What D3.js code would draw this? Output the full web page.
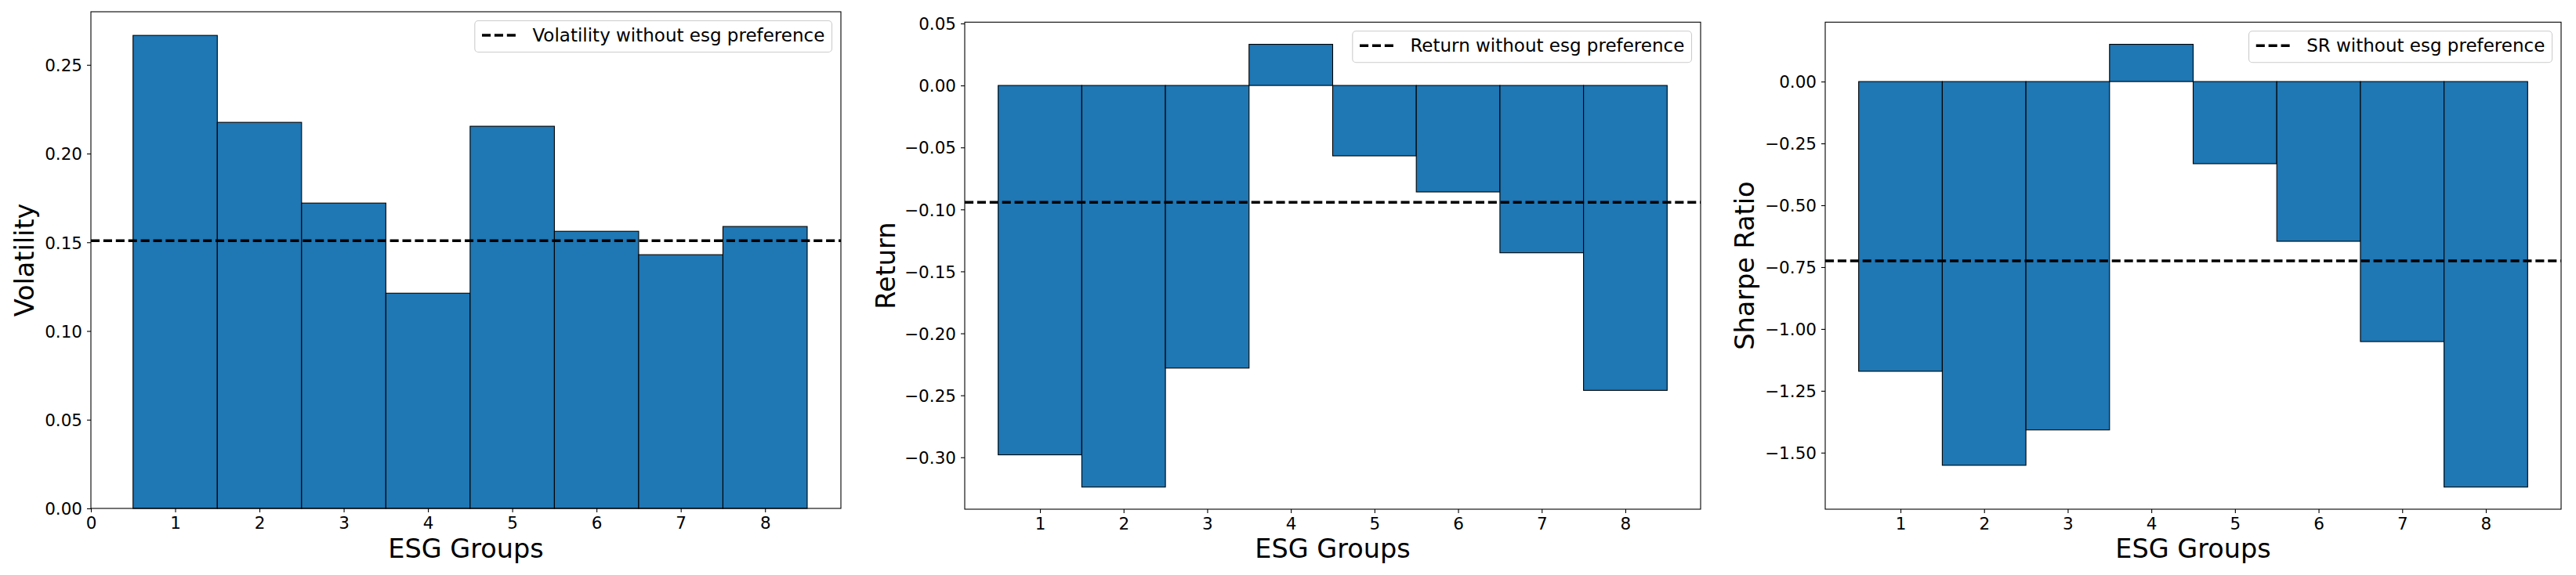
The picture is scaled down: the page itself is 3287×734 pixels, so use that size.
<!DOCTYPE html>
<html>
<head>
<meta charset="utf-8">
<script src="https://cdn.jsdelivr.net/npm/d3@7"></script>
<style>
  body { margin: 0; background: #fff; }
  text { font-family: "DejaVu Sans", sans-serif; fill: #000; }
</style>
</head>
<body>
<div id="chart"></div>
<script>
// values
const groups = [1, 2, 3, 4, 5, 6, 7, 8];
const volatility = [0.2666, 0.2176, 0.1721, 0.1213, 0.2154, 0.1562, 0.1430, 0.1589];
const volatilityBase = 0.1509;
const returns = [-0.298, -0.324, -0.228, 0.0332, -0.0568, -0.0859, -0.135, -0.246];
const returnBase = -0.0943;
const sharpe = [-1.171, -1.551, -1.408, 0.1506, -0.332, -0.6456, -1.051, -1.639];
const sharpeBase = -0.7247;

const volTicks = [0, 0.05, 0.10, 0.15, 0.20, 0.25];
const retTicks = [-0.30, -0.25, -0.20, -0.15, -0.10, -0.05, 0, 0.05];
const srTicks = [-1.50, -1.25, -1.00, -0.75, -0.50, -0.25, 0];

const W = 3287, H = 734;
const svg = d3.select("#chart").append("svg")
  .attr("width", W).attr("height", H);

svg.append("rect").attr("width", W).attr("height", H).attr("fill", "#fff");

function yDomain(vals) {
  let lo = Math.min(0, d3.min(vals)), hi = Math.max(0, d3.max(vals));
  const pad = 0.05 * (hi - lo);
  return [lo < 0 ? lo - pad : 0, hi > 0 ? hi + pad : 0];
}

function panel(cfg) {
  const { left, right, top, bottom } = cfg;
  const x = d3.scaleLinear().domain(cfg.xDomain).range([left, right]);
  const y = d3.scaleLinear().domain(yDomain(cfg.values)).range([bottom, top]);
  const g = svg.append("g");

  // bars
  g.selectAll("rect.bar")
    .data(cfg.values)
    .enter().append("rect")
    .attr("class", "bar")
    .attr("x", (d, i) => x(groups[i] - 0.5))
    .attr("width", (d, i) => x(groups[i] + 0.5) - x(groups[i] - 0.5))
    .attr("y", d => y(Math.max(0, d)))
    .attr("height", d => Math.abs(y(d) - y(0)))
    .attr("fill", "#1f77b4")
    .attr("stroke", "#000")
    .attr("stroke-width", 1.1);

  // reference line
  g.append("line")
    .attr("x1", left).attr("x2", right)
    .attr("y1", y(cfg.base)).attr("y2", y(cfg.base))
    .attr("stroke", "#000")
    .attr("stroke-width", 3.5)
    .attr("stroke-dasharray", "11.1,4.8");

  // frame
  g.append("rect")
    .attr("x", left).attr("y", top)
    .attr("width", right - left).attr("height", bottom - top)
    .attr("fill", "none").attr("stroke", "#000").attr("stroke-width", 1.1);

  // y axis
  const yAxis = g.append("g")
    .attr("transform", `translate(${left},0)`)
    .call(d3.axisLeft(y).tickValues(cfg.yTicks).tickFormat(d3.format(".2f"))
      .tickSize(5).tickPadding(6));
  yAxis.select(".domain").remove();
  yAxis.selectAll("line").attr("stroke-width", 1.1);
  yAxis.selectAll("text").attr("font-size", 21.5).attr("dy", "0.36em")
    .attr("font-family", "DejaVu Sans");

  // x axis
  const xAxis = g.append("g")
    .attr("transform", `translate(0,${bottom})`)
    .call(d3.axisBottom(x).tickValues(cfg.xTicks).tickFormat(d3.format("d"))
      .tickSize(5).tickPadding(5));
  xAxis.select(".domain").remove();
  xAxis.selectAll("line").attr("stroke-width", 1.1);
  xAxis.selectAll("text").attr("font-size", 21.5).attr("dy", "0.76em")
    .attr("font-family", "DejaVu Sans");

  // axis labels
  g.append("text")
    .attr("x", (left + right) / 2).attr("y", 712)
    .attr("text-anchor", "middle").attr("font-size", 33.5)
    .text("ESG Groups");
  g.append("text")
    .attr("transform", `translate(${left - cfg.ylabelOffset},${(top + bottom) / 2}) rotate(-90)`)
    .attr("text-anchor", "middle").attr("font-size", 33.5)
    .text(cfg.ylabel);

  // legend
  const fs = 23;
  const lg = g.append("g");
  const box = lg.append("rect");
  const label = lg.append("text")
    .attr("font-size", fs)
    .text(cfg.legend);
  const tw = label.node().getComputedTextLength();
  const lw = 0.4 * fs + 2 * fs + 0.8 * fs + tw + 0.4 * fs, lh = 40;
  const lx = right - 0.5 * fs - lw, ly = top + 0.5 * fs;
  box.attr("x", lx).attr("y", ly).attr("width", lw).attr("height", lh)
    .attr("rx", 4.5).attr("fill", "#fff").attr("fill-opacity", 0.8)
    .attr("stroke", "#cccccc").attr("stroke-width", 1.1);
  lg.append("line")
    .attr("x1", lx + 0.4 * fs).attr("x2", lx + 2.4 * fs)
    .attr("y1", ly + lh / 2 - 1.5).attr("y2", ly + lh / 2 - 1.5)
    .attr("stroke", "#000").attr("stroke-width", 3.5)
    .attr("stroke-dasharray", "11.1,4.8");
  label.attr("x", lx + 3.2 * fs).attr("y", ly + 26.5);
}

panel({
  left: 116, right: 1073, top: 15, bottom: 649,
  xDomain: [0, 8.9], xTicks: [0, 1, 2, 3, 4, 5, 6, 7, 8],
  values: volatility, base: volatilityBase, yTicks: volTicks,
  ylabel: "Volatility", ylabelOffset: 73,
  legend: "Volatility without esg preference"
});

panel({
  left: 1231, right: 2170, top: 28.3, bottom: 650,
  xDomain: [0.1, 8.9], xTicks: groups,
  values: returns, base: returnBase, yTicks: retTicks,
  ylabel: "Return", ylabelOffset: 89,
  legend: "Return without esg preference"
});

panel({
  left: 2329, right: 3268, top: 28.3, bottom: 650,
  xDomain: [0.1, 8.9], xTicks: groups,
  values: sharpe, base: sharpeBase, yTicks: srTicks,
  ylabel: "Sharpe Ratio", ylabelOffset: 91.5,
  legend: "SR without esg preference"
});
</script>
</body>
</html>
